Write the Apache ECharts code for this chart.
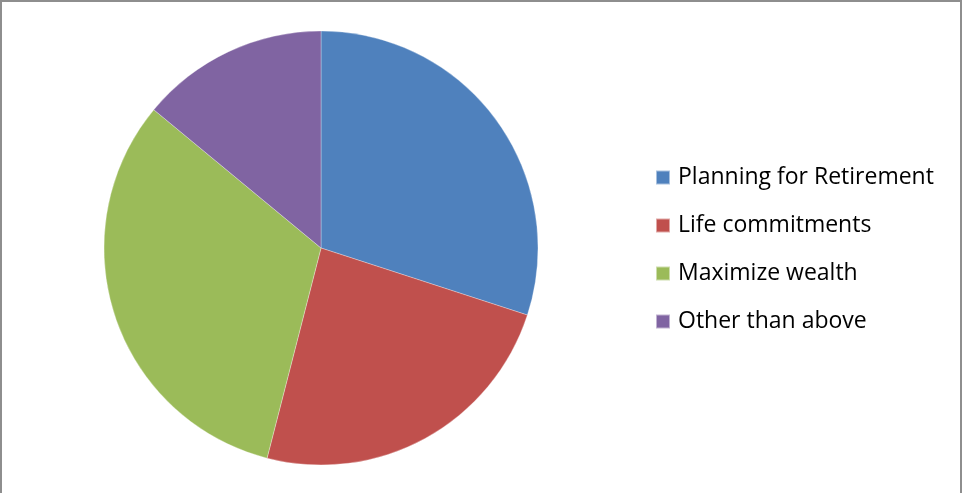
<!DOCTYPE html>
<html>
<head>
<meta charset="utf-8">
<script src="https://cdn.jsdelivr.net/npm/echarts@6/dist/echarts.min.js"></script>
<style>
  html, body { margin: 0; padding: 0; background: #fff; }
  #frame {
    position: absolute; left: 0; top: 0; width: 962px; height: 493px;
    box-sizing: border-box;
    border-left: 2px solid #8e8e8e; border-top: 2px solid #8e8e8e; border-right: 2px solid #8e8e8e;
  }
  #chart { position: absolute; left: 0; top: 0; width: 962px; height: 493px; }
</style>
</head>
<body>
<div id="frame"></div>
<div id="chart"></div>
<script>
// Share of respondents by investment goal (percent)
const categories = ['Planning for Retirement', 'Life commitments', 'Maximize wealth', 'Other than above'];
const shares = [30, 24, 32, 14];
const colors = ['#4F81BD', '#C0504D', '#9BBB59', '#8064A2'];

const chart = echarts.init(document.getElementById('chart'), null, { renderer: 'canvas' });
chart.setOption({
  animation: false,
  color: colors,
  legend: {
    orient: 'vertical',
    left: 655,
    top: 165,
    padding: 0,
    icon: 'rect',
    itemWidth: 14,
    itemHeight: 14,
    itemGap: 23,
    textStyle: {
      fontFamily: 'Open Sans, Liberation Sans, sans-serif',
      fontSize: 23,
      lineHeight: 23,
      color: '#000',
      padding: [2, 0, 0, 3]
    },
    data: categories
  },
  series: [{
    type: 'pie',
    center: [321, 248],
    radius: 217,
    startAngle: 90,
    clockwise: true,
    label: { show: false },
    labelLine: { show: false },
    emphasis: { disabled: true },
    itemStyle: { borderColor: 'rgba(255,255,255,0.5)', borderWidth: 0.6 },
    data: categories.map((name, i) => ({ name, value: shares[i] }))
  }]
});
</script>
</body>
</html>
